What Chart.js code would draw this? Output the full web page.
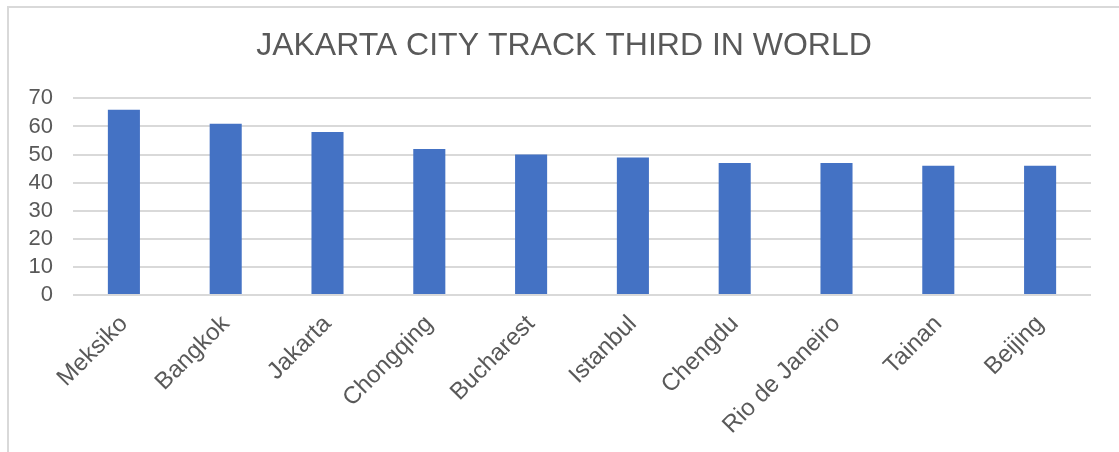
<!DOCTYPE html>
<html>
<head>
<meta charset="utf-8">
<script src="https://cdn.jsdelivr.net/npm/chart.js@4"></script>
<style>
  html, body { margin: 0; padding: 0; background: #fff; overflow: hidden; }
  #frame { position: absolute; left: 7px; top: 6px; width: 1300px; height: 700px; border: 2px solid #d9d9d9; box-sizing: border-box; }
  #wrap { position: absolute; left: 8px; top: 0; width: 1112px; height: 452px; }
</style>
</head>
<body>
<div id="frame"></div>
<div id="wrap"><canvas id="chart"></canvas></div>
<script>
// Top cities by traffic congestion level
const cities = ["Meksiko", "Bangkok", "Jakarta", "Chongqing", "Bucharest", "Istanbul", "Chengdu", "Rio de Janeiro", "Tainan", "Beijing"];
const congestion = [66, 61, 58, 52, 50, 49, 47, 47, 46, 46];
const yTicks = [0, 10, 20, 30, 40, 50, 60, 70];

const TEXT = "#595959";
const GRID = "#d9d9d9";
const FONT = "'Liberation Sans', Arial, sans-serif";

new Chart(document.getElementById("chart"), {
  type: "bar",
  data: {
    labels: cities,
    datasets: [{ data: congestion, backgroundColor: "#4472C4", categoryPercentage: 1, barPercentage: 0.315 }],
  },
  options: {
    responsive: true, maintainAspectRatio: false, animation: false,
    layout: { padding: 0 },
    plugins: {
      legend: { display: false },
      tooltip: { enabled: false },
      title: {
        display: true, text: "JAKARTA CITY TRACK THIRD IN WORLD", color: TEXT,
        font: { family: FONT, size: 32, weight: "normal", lineHeight: 1.2 }, padding: { top: 27, bottom: 33 },
      },
    },
    scales: {
      x: {
        grid: { display: false },
        border: { display: false },
        ticks: { color: TEXT, font: { family: FONT, size: 24 }, minRotation: 45, maxRotation: 45, autoSkip: false, padding: 7 },
        afterFit: (s) => { s.height = 157; },
      },
      y: {
        min: 0, max: 70,
        afterBuildTicks: (s) => { s.ticks = yTicks.map((v) => ({ value: v })); },
        grid: { color: GRID, lineWidth: 2, drawTicks: false },
        border: { display: false },
        ticks: { color: TEXT, font: { family: FONT, size: 22 }, autoSkip: false, padding: 20 },
        afterFit: (s) => { s.width = 65; },
      },
      // empty right-hand spacer so the plot stops where the reference does
      yRight: {
        position: "right", min: 0, max: 70,
        grid: { display: false }, border: { display: false },
        ticks: { display: false },
        afterFit: (s) => { s.width = 29; },
      },
    },
  },
});
</script>
</body>
</html>
